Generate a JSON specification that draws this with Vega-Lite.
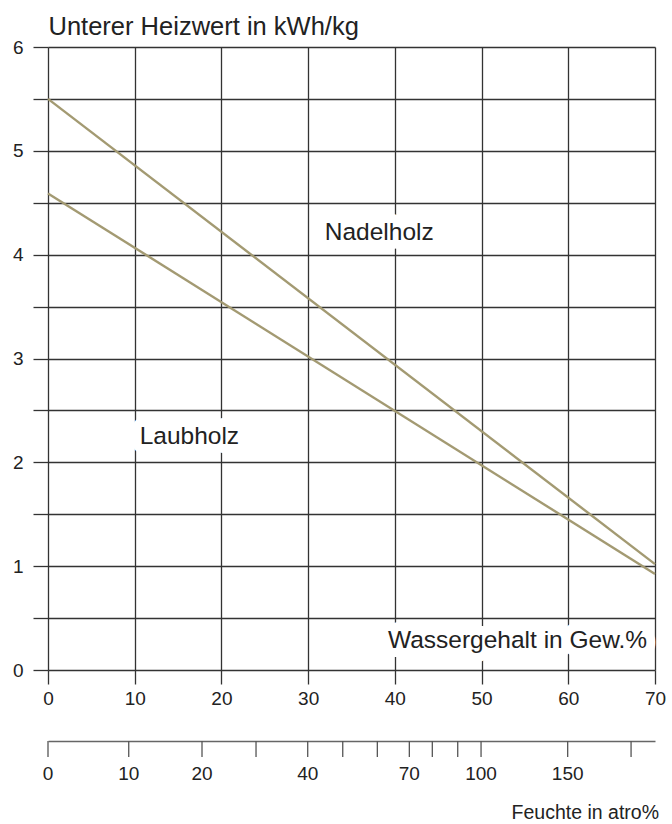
{
  "$schema": "https://vega.github.io/schema/vega-lite/v6.json",
  "padding": {"left": 12, "top": 14, "right": 5, "bottom": 5},
  "config": {
    "view": {"stroke": null},
    "font": "Liberation Sans",
    "axis": {"labelFont": "Liberation Sans", "titleFont": "Liberation Sans", "labelColor": "#222", "titleColor": "#222"},
    "title": {"font": "Liberation Sans", "color": "#222"}
  },
  "datasets": {
    "curves": [
      {"holz": "Nadelholz", "w": 0, "hu": 5.5},
      {"holz": "Nadelholz", "w": 70, "hu": 1.02},
      {"holz": "Laubholz", "w": 0, "hu": 4.59},
      {"holz": "Laubholz", "w": 70, "hu": 0.925}
    ],
    "labels": [
      {"text": "Nadelholz", "w": 38.2, "hu": 4.21},
      {"text": "Laubholz", "w": 16.3, "hu": 2.24},
      {"text": "Wassergehalt in Gew.%", "w": 54.15, "hu": 0.28}
    ],
    "atro": [
      {"atro": 0, "w": 0, "label": "0"},
      {"atro": 10, "w": 9.31, "label": "10"},
      {"atro": 20, "w": 17.76, "label": "20"},
      {"atro": 30, "w": 23.99, "label": ""},
      {"atro": 40, "w": 29.95, "label": "40"},
      {"atro": 50, "w": 33.99, "label": ""},
      {"atro": 60, "w": 37.98, "label": ""},
      {"atro": 70, "w": 41.67, "label": "70"},
      {"atro": 80, "w": 44.32, "label": ""},
      {"atro": 90, "w": 47.25, "label": ""},
      {"atro": 100, "w": 49.94, "label": "100"},
      {"atro": 150, "w": 59.93, "label": "150"},
      {"atro": 200, "w": 67.24, "label": ""}
    ]
  },
  "vconcat": [
    {
      "width": 607,
      "height": 623,
      "encoding": {
        "x": {
          "field": "w", "type": "quantitative",
          "scale": {"domain": [0, 70], "nice": false, "zero": false},
          "axis": {
            "values": [0, 10, 20, 30, 40, 50, 60, 70],
            "title": null, "domain": false, "grid": true,
            "gridColor": "#333", "gridWidth": 1.3, "gridOpacity": 1,
            "tickColor": "#333", "tickWidth": 1.3, "tickSize": 14,
            "labelFontSize": 19, "labelPadding": 5, "labelFlush": false
          }
        },
        "y": {
          "field": "hu", "type": "quantitative",
          "scale": {"domain": [0, 6], "nice": false},
          "axis": {
            "values": [0, 0.5, 1, 1.5, 2, 2.5, 3, 3.5, 4, 4.5, 5, 5.5, 6],
            "labelExpr": "datum.value % 1 == 0 ? format(datum.value, 'd') : ''",
            "domain": false, "grid": true,
            "gridColor": "#333", "gridWidth": 1.3, "gridOpacity": 1,
            "tickColor": "#333", "tickWidth": 1.3, "tickSize": 15,
            "labelFontSize": 19, "labelPadding": 10, "labelFlush": false,
            "title": "Unterer Heizwert in kWh/kg",
            "titleAngle": 0, "titleAlign": "left", "titleBaseline": "alphabetic",
            "titleX": 0, "titleY": -13, "titleFontSize": 25.5, "titleFontWeight": "normal"
          }
        }
      },
      "layer": [
        {
          "data": {"name": "curves"},
          "mark": {"type": "line", "color": "#a39a72", "strokeWidth": 2.4},
          "encoding": {"detail": {"field": "holz"}}
        },
        {
          "data": {"name": "labels"},
          "mark": {"type": "text", "fontSize": 24.5, "align": "center", "baseline": "middle", "stroke": "white", "strokeWidth": 18, "strokeJoin": "round", "fill": "white"},
          "encoding": {"text": {"field": "text"}}
        },
        {
          "data": {"name": "labels"},
          "mark": {"type": "text", "fontSize": 24.5, "align": "center", "baseline": "middle", "color": "#222"},
          "encoding": {"text": {"field": "text"}}
        }
      ]
    },
    {
      "width": 607,
      "height": 16,
      "data": {"name": "atro"},
      "title": {"text": "Feuchte in atro%", "orient": "bottom", "anchor": "end", "fontSize": 19.5, "fontWeight": "normal", "offset": 20, "dx": 4},
      "encoding": {
        "x": {
          "field": "w", "type": "quantitative",
          "scale": {"domain": [0, 70], "nice": false, "zero": false},
          "axis": {"orient": "top", "domain": true, "domainColor": "#666", "domainWidth": 1.3, "ticks": false, "labels": false, "grid": false, "title": null}
        }
      },
      "layer": [
        {"mark": {"type": "rule", "color": "#555", "strokeWidth": 1.3}},
        {
          "mark": {"type": "text", "fontSize": 19, "baseline": "middle", "align": "center", "y": {"expr": "height"}, "dy": 17, "color": "#222"},
          "encoding": {"text": {"field": "label"}}
        }
      ]
    }
  ],
  "spacing": 71,
  "bounds": "flush"
}
